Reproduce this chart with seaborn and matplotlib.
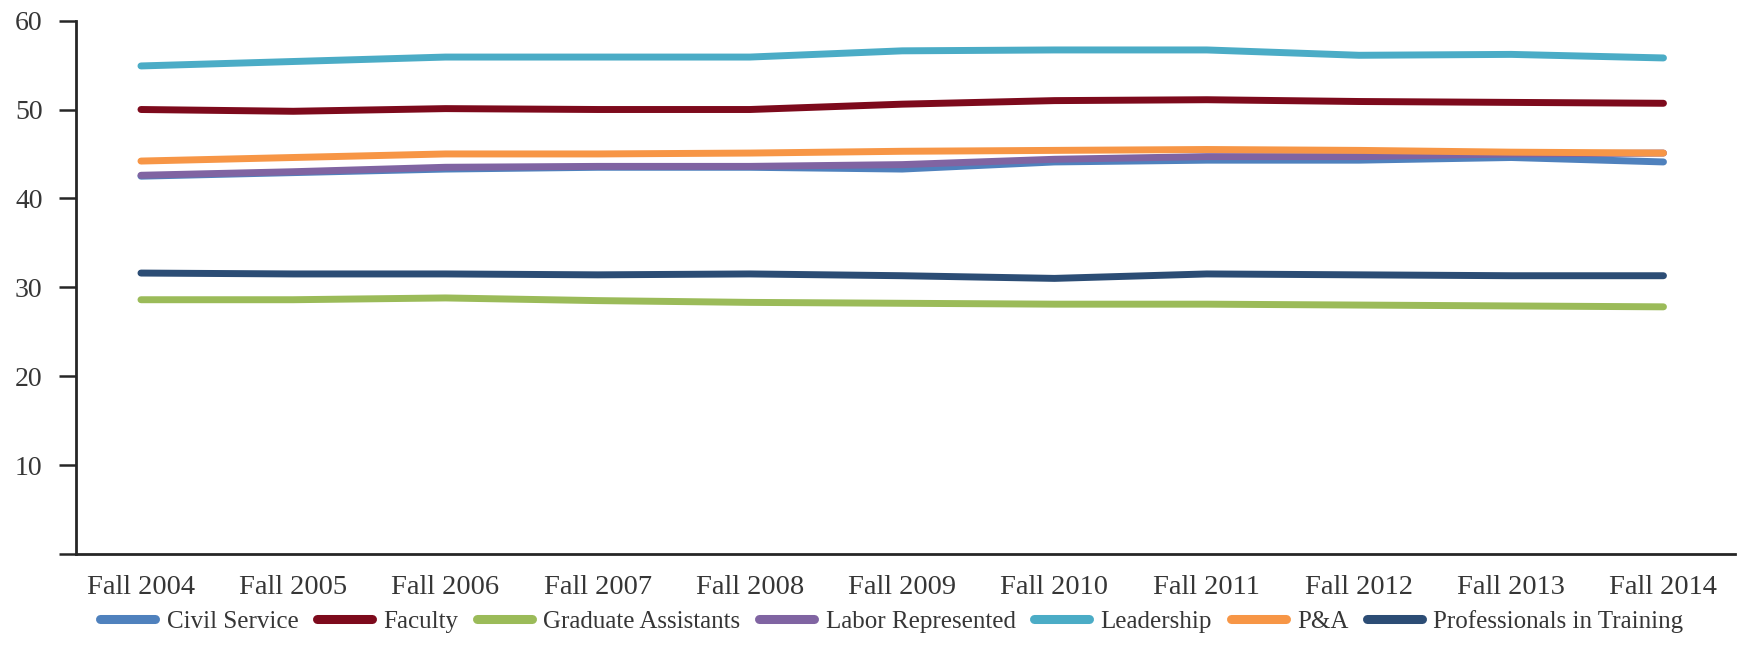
import pandas as pd
import matplotlib.pyplot as plt
import seaborn as sns

# Data
terms = ['Fall 2004', 'Fall 2005', 'Fall 2006', 'Fall 2007', 'Fall 2008', 'Fall 2009',
         'Fall 2010', 'Fall 2011', 'Fall 2012', 'Fall 2013', 'Fall 2014']
civil_service = [42.5, 42.9, 43.3, 43.5, 43.5, 43.3, 44.1, 44.3, 44.3, 44.6, 44.1]
faculty = [50.0, 49.8, 50.1, 50.0, 50.0, 50.6, 51.0, 51.1, 50.9, 50.8, 50.7]
graduate_assistants = [28.6, 28.6, 28.8, 28.5, 28.3, 28.2, 28.1, 28.1, 28.0, 27.9, 27.8]
labor_represented = [42.6, 43.0, 43.5, 43.6, 43.6, 43.8, 44.4, 44.7, 44.7, 45.0, 45.1]
leadership = [54.9, 55.4, 55.9, 55.9, 55.9, 56.6, 56.7, 56.7, 56.1, 56.2, 55.8]
p_and_a = [44.2, 44.6, 45.0, 45.0, 45.1, 45.3, 45.4, 45.5, 45.4, 45.2, 45.1]
professionals = [31.6, 31.5, 31.5, 31.4, 31.5, 31.3, 31.0, 31.5, 31.4, 31.3, 31.3]

groups = ['Civil Service', 'Faculty', 'Graduate Assistants', 'Labor Represented',
          'Leadership', 'P&A', 'Professionals in Training']
colors = ['#4F81BD', '#7D0A1C', '#9BBB59', '#8064A2', '#4BACC6', '#F79646', '#2C4D75']
series = [civil_service, faculty, graduate_assistants, labor_represented,
          leadership, p_and_a, professionals]

rows = []
for name, vals in zip(groups, series):
    for i, (t, v) in enumerate(zip(terms, vals)):
        rows.append({'group': name, 'term': t, 'pos': i, 'value': v})
df = pd.DataFrame(rows)

sns.set_style('white')
plt.rcParams['font.family'] = ['Liberation Serif', 'DejaVu Serif']
text_color = '#363636'

fig = plt.figure(figsize=(17.42, 6.65), dpi=100)
ax = fig.add_axes([0.0436, 0.167, 0.9524, 0.802])

sns.lineplot(data=df, x='pos', y='value', hue='group', hue_order=groups,
             palette=colors, linewidth=5, ax=ax, legend=False,
             solid_capstyle='round')

ax.set_xlim(-0.427, 10.47)
ax.set_ylim(0, 60)
ax.set_yticks([0, 10, 20, 30, 40, 50, 60])
ax.set_yticklabels(['', '10', '20', '30', '40', '50', '60'])
ax.set_xticks(range(len(terms)))
ax.set_xticklabels(terms)
ax.set_xlabel('')
ax.set_ylabel('')

for side in ['top', 'right']:
    ax.spines[side].set_visible(False)
for side in ['left', 'bottom']:
    ax.spines[side].set_color('#262626')
    ax.spines[side].set_linewidth(2)

ax.tick_params(axis='y', length=12, width=1.8, color='#262626', pad=12,
               labelsize=20, labelcolor=text_color, left=True)
ax.tick_params(axis='x', length=0, pad=15, labelsize=20.5, labelcolor=text_color)

handles = [plt.Line2D([0], [0], color=c, linewidth=6.5, solid_capstyle='round')
           for c in colors]
fig.legend(handles, groups, loc='center', bbox_to_anchor=(0.512, 0.066), ncol=7,
           frameon=False, fontsize=18, handlelength=2.2, handletextpad=0.45,
           columnspacing=0.75, labelcolor=text_color)

fig.savefig('out.png', dpi=100)
